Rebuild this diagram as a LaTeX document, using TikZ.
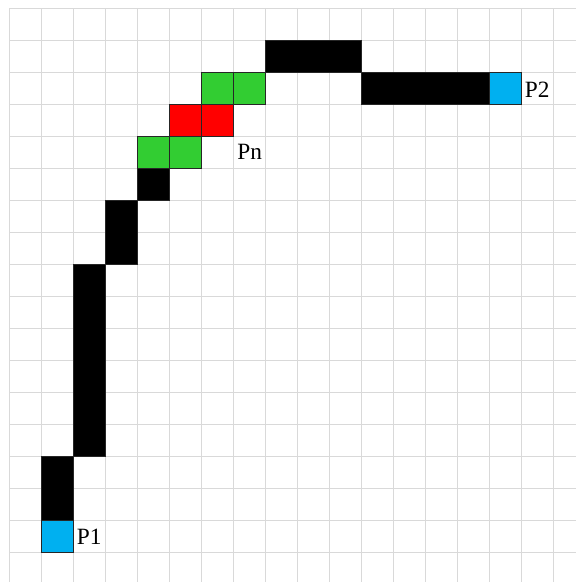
\documentclass[tikz,border=0pt]{standalone}
\usepackage{fontspec}
\setmainfont{Liberation Serif}
\definecolor{gridgray}{RGB}{217,217,217}
\definecolor{pblue}{RGB}{0,176,240}
\definecolor{pgreen}{RGB}{50,205,50}
\definecolor{pred}{RGB}{255,0,0}
\tikzset{
  gridline/.style={draw=gridgray, line width=0.75pt},
  cellbox/.style={draw=black!85, line width=0.7pt},
  plabel/.style={anchor=base west, inner sep=0pt, font=\fontsize{17.5}{20}\selectfont}
}
\newcommand\mycell[3]{\filldraw[cellbox, fill=#3] (#1,#2) rectangle ++(1,1);}
\newcommand\myrun[5]{\filldraw[cellbox, fill=#5] (#1,#2) rectangle (#3,#4);}
\begin{document}
\begin{tikzpicture}[x=24pt,y=-24pt]
\useasboundingbox[fill=white] (-0.28125,-0.25) rectangle (17.71875,17.9375);
% grid
\foreach \i in {0,...,17} {
  \draw[gridline] (\i,0) -- (\i,17.9375);
  \draw[gridline] (0,\i) -- (17.71875,\i);
}
% path cells
\mycell{1}{16}{pblue}
\myrun{1}{14}{2}{16}{black}
\myrun{2}{8}{3}{14}{black}
\myrun{3}{6}{4}{8}{black}
\mycell{4}{5}{black}
\mycell{4}{4}{pgreen}
\mycell{5}{4}{pgreen}
\mycell{5}{3}{pred}
\mycell{6}{3}{pred}
\mycell{6}{2}{pgreen}
\mycell{7}{2}{pgreen}
\myrun{8}{1}{11}{2}{black}
\myrun{11}{2}{15}{3}{black}
\mycell{15}{2}{pblue}
% labels
\node[plabel] (p1) at (2.11,16.78) {P1};
\node[plabel] (p2) at (16.11,2.79) {P2};
\node[plabel] (pn) at (7.13,4.74) {Pn};
\end{tikzpicture}
\end{document}
